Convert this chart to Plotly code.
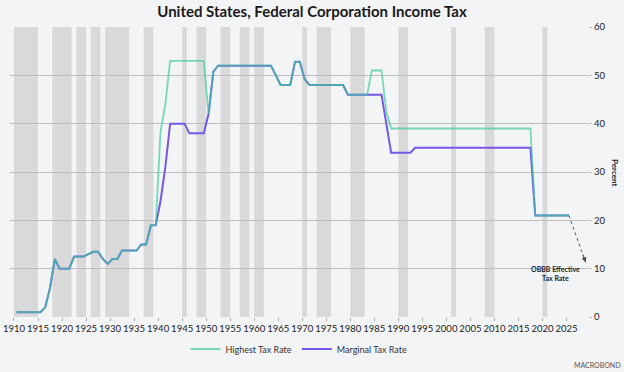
import plotly.graph_objects as go

years = list(range(1910, 2026))

highest_rate = (
    [1] * 6 + [2, 6, 12] + [10] * 3 + [12.5] * 3 + [13] + [13.5] * 2 + [12, 11] + [12] * 2
    + [13.75] * 4 + [15] * 2 + [19] * 2 + [38.3, 44] + [53] * 8 + [42, 50.75] + [52] * 12
    + [50] + [48] * 3 + [52.8] * 2 + [49.2] + [48] * 8 + [46] * 5 + [51] * 3 + [42.5]
    + [39] * 30 + [21] * 8
)
marginal_rate = (
    [1] * 6 + [2, 6, 12] + [10] * 3 + [12.5] * 3 + [13] + [13.5] * 2 + [12, 11] + [12] * 2
    + [13.75] * 4 + [15] * 2 + [19] * 2 + [24, 31] + [40] * 4 + [38] * 4 + [42, 50.75] + [52] * 12
    + [50] + [48] * 3 + [52.8] * 2 + [49.2] + [48] * 8 + [46] * 8 + [40]
    + [34] * 5 + [35] * 25 + [21] * 8
)
recession_years = [1910, 1911, 1912, 1913, 1914, 1918, 1919, 1920, 1921, 1923, 1924, 1926, 1927,
                   1929, 1930, 1931, 1932, 1933, 1937, 1938, 1945, 1948, 1949, 1953, 1954,
                   1957, 1958, 1960, 1961, 1970, 1973, 1974, 1975, 1980, 1981, 1982, 1990, 1991,
                   2001, 2008, 2009, 2020]
obbb_target = [2029, 11.3]
x_ticks = list(range(1910, 2030, 5))
y_ticks = list(range(0, 61, 10))

assert len(highest_rate) == len(years) and len(marginal_rate) == len(years)

GREEN = "#3dcc9c"
PURPLE = "#7658e6"
FONT = "Lato"

# plot area in pixels
L, R, T, B = 10, 36, 27, 55
PW, PH = 624 - L - R, 372 - T - B

xs = [y + 0.5 for y in years]

fig = go.Figure()
fig.add_trace(go.Scatter(x=xs, y=marginal_rate, mode="lines", name="Marginal Tax Rate",
                         line=dict(color=PURPLE, width=2), legendrank=2))
fig.add_trace(go.Scatter(x=xs, y=highest_rate, mode="lines", name="Highest Tax Rate",
                         line=dict(color=GREEN, width=1.8), opacity=0.68, legendrank=1))
# dotted leader to annotation
fig.add_trace(go.Scatter(x=[xs[-1], obbb_target[0]], y=[marginal_rate[-1], obbb_target[1]],
                         mode="lines", line=dict(color="#555", width=1, dash="dot"),
                         showlegend=False, hoverinfo="skip"))

# recession shading
shapes = []
runs = []
for y in recession_years:
    if runs and runs[-1][1] == y:
        runs[-1][1] = y + 1
    else:
        runs.append([y, y + 1])
for a, b in runs:
    shapes.append(dict(type="rect", xref="x", yref="y", x0=a, x1=b, y0=0, y1=60,
                       fillcolor="#d9d9d9", line=dict(width=0), layer="below"))

fig.update_layout(
    width=624, height=372,
    margin=dict(l=L, r=R, t=T, b=B, autoexpand=False),
    paper_bgcolor="#f3f4f6", plot_bgcolor="#f3f4f6",
    shapes=shapes,
    title=dict(text="<b>United States, Federal Corporation Income Tax</b>",
               x=0.5, xanchor="center", y=1 - 12 / 372, yanchor="middle",
               font=dict(family=FONT, size=15, color="#1a1a1a")),
    font=dict(family=FONT, size=9, color="#333"),
    xaxis=dict(range=[1909.17, 2029.48], tickvals=x_ticks, ticktext=[str(t) for t in x_ticks],
               showgrid=False, zeroline=False, showline=False, automargin=False,
               ticks="outside", ticklen=3, tickcolor="#aaa", tickangle=0,
               tickfont=dict(size=9.5, color="#222")),
    yaxis=dict(range=[0, 60], tickvals=y_ticks, side="right", automargin=False,
               showgrid=True, gridcolor="#bdbdbd", gridwidth=1,
               zeroline=False, showline=False, ticks="outside", ticklen=3, tickcolor="#bdbdbd",
               tickfont=dict(size=9.5, color="#222")),
    legend=dict(orientation="h", x=0.5, xanchor="center", y=-32 / PH, yanchor="middle",
                font=dict(size=9, color="#333"), bgcolor="rgba(0,0,0,0)", itemwidth=30),
    showlegend=True,
    annotations=[
        dict(x=obbb_target[0], y=obbb_target[1], ax=-3.4, ay=-9.4, xref="x", yref="y",
             showarrow=True, arrowhead=2, arrowsize=1, arrowwidth=1, arrowcolor="#555", text=""),
        dict(x=2022.8, y=8.9, xref="x", yref="y", showarrow=False,
             text="<b>OBBB Effective<br>Tax Rate</b>", font=dict(size=7, color="#222"),
             align="center"),
        dict(x=(615 - L) / PW, y=0.5, xref="paper", yref="paper", showarrow=False,
             xanchor="center", yanchor="middle",
             text="<b>Percent</b>", textangle=90, font=dict(size=8, color="#222")),
        dict(x=(597 - L) / PW, y=-(365 - 317) / PH, xref="paper", yref="paper",
             xanchor="center", yanchor="middle", showarrow=False, text="MACROBOND",
             font=dict(size=7, color="#555")),
    ],
)

fig.write_html("out.html", config={"displayModeBar": False},
               post_script="document.body.style.margin='0';document.body.style.background='#f3f4f6';")
